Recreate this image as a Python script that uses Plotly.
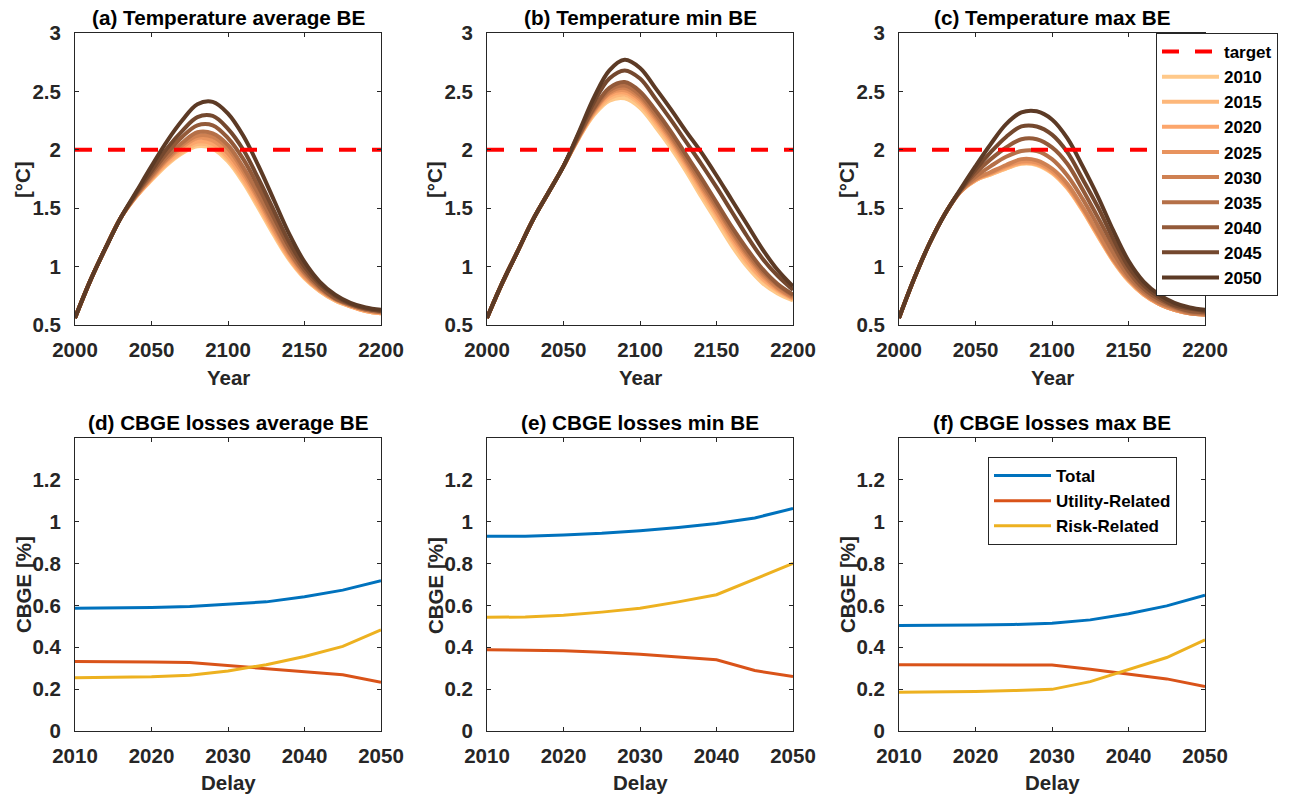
import plotly.graph_objects as go

# ---------------- data ----------------
years = [2000, 2010, 2020, 2030, 2040, 2050, 2060, 2070, 2080, 2090, 2100,
         2110, 2120, 2130, 2140, 2150, 2160, 2170, 2180, 2190, 2200]
delay_labels = ["2010", "2015", "2020", "2025", "2030", "2035", "2040", "2045", "2050"]
delay_years = [2010, 2015, 2020, 2025, 2030, 2035, 2040, 2045, 2050]
target_value = 2.0

# (a) Temperature average BE
avg_2010 = [0.56, 0.88, 1.16, 1.42, 1.60, 1.74, 1.87, 1.97, 2.03, 2.01, 1.90, 1.72, 1.50, 1.27, 1.06, 0.90, 0.79, 0.71, 0.66, 0.62, 0.60]
avg_2015 = [0.56, 0.88, 1.16, 1.42, 1.60, 1.75, 1.88, 1.98, 2.05, 2.03, 1.92, 1.74, 1.52, 1.29, 1.07, 0.91, 0.79, 0.71, 0.66, 0.62, 0.60]
avg_2020 = [0.56, 0.88, 1.16, 1.42, 1.60, 1.75, 1.89, 2.00, 2.07, 2.05, 1.94, 1.76, 1.54, 1.30, 1.08, 0.91, 0.80, 0.72, 0.66, 0.62, 0.60]
avg_2025 = [0.56, 0.88, 1.16, 1.42, 1.61, 1.76, 1.91, 2.02, 2.10, 2.08, 1.97, 1.79, 1.57, 1.32, 1.10, 0.92, 0.80, 0.72, 0.67, 0.63, 0.61]
avg_2030 = [0.56, 0.88, 1.16, 1.42, 1.61, 1.77, 1.92, 2.04, 2.12, 2.11, 2.01, 1.82, 1.59, 1.35, 1.12, 0.94, 0.81, 0.72, 0.67, 0.63, 0.61]
avg_2035 = [0.56, 0.88, 1.16, 1.42, 1.61, 1.78, 1.94, 2.06, 2.15, 2.14, 2.04, 1.85, 1.62, 1.37, 1.13, 0.95, 0.82, 0.73, 0.67, 0.63, 0.61]
avg_2040 = [0.56, 0.88, 1.16, 1.42, 1.62, 1.80, 1.97, 2.11, 2.21, 2.21, 2.10, 1.92, 1.68, 1.42, 1.17, 0.97, 0.83, 0.73, 0.68, 0.64, 0.62]
avg_2045 = [0.56, 0.88, 1.16, 1.42, 1.63, 1.82, 2.01, 2.16, 2.28, 2.29, 2.18, 2.00, 1.75, 1.48, 1.21, 1.00, 0.85, 0.75, 0.68, 0.64, 0.62]
avg_2050 = [0.56, 0.88, 1.16, 1.42, 1.64, 1.86, 2.07, 2.25, 2.39, 2.41, 2.31, 2.12, 1.86, 1.57, 1.28, 1.04, 0.87, 0.76, 0.69, 0.65, 0.63]

# (b) Temperature min BE
min_2010 = [0.56, 0.86, 1.13, 1.40, 1.63, 1.86, 2.10, 2.30, 2.42, 2.44, 2.36, 2.20, 2.02, 1.82, 1.60, 1.39, 1.18, 1.00, 0.86, 0.77, 0.71]
min_2015 = [0.56, 0.86, 1.13, 1.40, 1.63, 1.86, 2.10, 2.31, 2.44, 2.47, 2.39, 2.23, 2.05, 1.85, 1.63, 1.43, 1.22, 1.03, 0.89, 0.79, 0.72]
min_2020 = [0.56, 0.86, 1.13, 1.40, 1.63, 1.86, 2.11, 2.32, 2.46, 2.49, 2.41, 2.25, 2.07, 1.87, 1.66, 1.45, 1.24, 1.05, 0.90, 0.80, 0.73]
min_2025 = [0.56, 0.86, 1.13, 1.40, 1.63, 1.86, 2.11, 2.33, 2.48, 2.51, 2.43, 2.27, 2.09, 1.89, 1.68, 1.47, 1.26, 1.08, 0.92, 0.81, 0.73]
min_2030 = [0.56, 0.86, 1.13, 1.40, 1.63, 1.86, 2.11, 2.34, 2.49, 2.53, 2.45, 2.29, 2.11, 1.91, 1.70, 1.50, 1.29, 1.10, 0.94, 0.82, 0.74]
min_2035 = [0.56, 0.86, 1.13, 1.40, 1.63, 1.86, 2.12, 2.35, 2.51, 2.55, 2.47, 2.31, 2.13, 1.93, 1.73, 1.52, 1.31, 1.12, 0.96, 0.84, 0.75]
min_2040 = [0.56, 0.86, 1.13, 1.40, 1.63, 1.86, 2.12, 2.36, 2.53, 2.58, 2.50, 2.34, 2.16, 1.96, 1.76, 1.55, 1.34, 1.15, 0.98, 0.85, 0.76]
min_2045 = [0.56, 0.86, 1.13, 1.40, 1.63, 1.86, 2.14, 2.41, 2.61, 2.68, 2.61, 2.44, 2.26, 2.07, 1.88, 1.68, 1.47, 1.26, 1.07, 0.92, 0.80]
min_2050 = [0.56, 0.86, 1.13, 1.40, 1.63, 1.86, 2.15, 2.45, 2.68, 2.77, 2.70, 2.53, 2.35, 2.16, 1.98, 1.78, 1.57, 1.36, 1.15, 0.97, 0.83]

# (c) Temperature max BE
max_2010 = [0.56, 0.90, 1.20, 1.45, 1.64, 1.74, 1.79, 1.84, 1.88, 1.87, 1.80, 1.67, 1.48, 1.26, 1.05, 0.88, 0.76, 0.68, 0.63, 0.60, 0.59]
max_2015 = [0.56, 0.90, 1.20, 1.45, 1.64, 1.74, 1.79, 1.84, 1.885, 1.875, 1.805, 1.675, 1.485, 1.265, 1.05, 0.88, 0.76, 0.68, 0.63, 0.60, 0.59]
max_2020 = [0.56, 0.90, 1.20, 1.45, 1.64, 1.74, 1.80, 1.85, 1.89, 1.88, 1.81, 1.68, 1.49, 1.27, 1.06, 0.89, 0.76, 0.68, 0.63, 0.60, 0.59]
max_2025 = [0.56, 0.90, 1.20, 1.45, 1.64, 1.75, 1.80, 1.86, 1.90, 1.89, 1.82, 1.69, 1.50, 1.28, 1.06, 0.89, 0.77, 0.68, 0.63, 0.60, 0.59]
max_2030 = [0.56, 0.90, 1.20, 1.45, 1.64, 1.75, 1.81, 1.87, 1.92, 1.91, 1.84, 1.71, 1.51, 1.29, 1.07, 0.90, 0.77, 0.69, 0.64, 0.60, 0.59]
max_2035 = [0.56, 0.90, 1.20, 1.45, 1.65, 1.77, 1.86, 1.94, 1.99, 1.99, 1.92, 1.78, 1.58, 1.35, 1.12, 0.92, 0.79, 0.70, 0.65, 0.61, 0.60]
max_2040 = [0.56, 0.90, 1.20, 1.45, 1.65, 1.80, 1.92, 2.02, 2.09, 2.09, 2.02, 1.88, 1.66, 1.42, 1.18, 0.96, 0.81, 0.72, 0.66, 0.62, 0.61]
max_2045 = [0.56, 0.90, 1.20, 1.45, 1.65, 1.83, 1.98, 2.11, 2.20, 2.20, 2.13, 1.98, 1.75, 1.51, 1.24, 1.00, 0.84, 0.74, 0.67, 0.64, 0.62]
max_2050 = [0.56, 0.90, 1.20, 1.45, 1.66, 1.86, 2.05, 2.22, 2.32, 2.33, 2.26, 2.10, 1.86, 1.60, 1.31, 1.05, 0.87, 0.76, 0.69, 0.65, 0.63]

# (d)-(f) CBGE losses [%]
avg_total = [0.587, 0.587, 0.590, 0.595, 0.605, 0.617, 0.641, 0.673, 0.718]
avg_utility = [0.332, 0.332, 0.330, 0.327, 0.313, 0.299, 0.284, 0.269, 0.233]
avg_risk = [0.255, 0.256, 0.259, 0.266, 0.287, 0.317, 0.356, 0.404, 0.483]

min_total = [0.930, 0.930, 0.937, 0.945, 0.957, 0.972, 0.991, 1.018, 1.063]
min_utility = [0.388, 0.387, 0.383, 0.376, 0.367, 0.354, 0.340, 0.289, 0.260]
min_risk = [0.543, 0.545, 0.553, 0.568, 0.587, 0.617, 0.651, 0.726, 0.801]

max_total = [0.504, 0.504, 0.506, 0.509, 0.515, 0.531, 0.560, 0.598, 0.649]
max_utility = [0.316, 0.316, 0.315, 0.314, 0.315, 0.295, 0.271, 0.249, 0.212]
max_risk = [0.185, 0.186, 0.189, 0.193, 0.199, 0.236, 0.292, 0.351, 0.436]

temp_ticks = [0.5, 1, 1.5, 2, 2.5, 3]
temp_ticktext = ["0.5", "1", "1.5", "2", "2.5", "3"]
year_ticks = [2000, 2050, 2100, 2150, 2200]
cbge_ticks = [0, 0.2, 0.4, 0.6, 0.8, 1.0, 1.2]
cbge_ticktext = ["0", "0.2", "0.4", "0.6", "0.8", "1", "1.2"]
delay_ticks = [2010, 2020, 2030, 2040, 2050]

panel_titles = ["(a) Temperature average BE", "(b) Temperature min BE", "(c) Temperature max BE",
                "(d) CBGE losses average BE", "(e) CBGE losses min BE", "(f) CBGE losses max BE"]

# ---------------- styles ----------------
delay_colors = ["#FFC98A", "#FDB77A", "#FCA66C", "#E8935E", "#CF8152",
                "#B57048", "#935A39", "#74482E", "#5C3A25"]
cbge_names = ["Total", "Utility-Related", "Risk-Related"]
cbge_colors = ["#0072BD", "#D95319", "#EDB120"]

FONT = "Liberation Sans, Arial, Helvetica, sans-serif"
AX_COLOR = "#262626"
W, H = 1291, 797

x_doms = [[75 / W, 381 / W], [487 / W, 793 / W], [899 / W, 1205 / W]]
y_doms = [[1 - 325 / H, 1 - 33 / H], [1 - 731 / H, 1 - 438 / H]]

fig = go.Figure()

temp_sets = [
    [avg_2010, avg_2015, avg_2020, avg_2025, avg_2030, avg_2035, avg_2040, avg_2045, avg_2050],
    [min_2010, min_2015, min_2020, min_2025, min_2030, min_2035, min_2040, min_2045, min_2050],
    [max_2010, max_2015, max_2020, max_2025, max_2030, max_2035, max_2040, max_2045, max_2050],
]

for p, series in enumerate(temp_sets):
    xa = "x" if p == 0 else f"x{p + 1}"
    ya = "y" if p == 0 else f"y{p + 1}"
    show = (p == 2)
    for i, vals in enumerate(series):
        fig.add_trace(go.Scatter(
            x=years, y=vals, mode="lines", name=delay_labels[i],
            line=dict(color=delay_colors[i], width=4, shape="spline", smoothing=1.0),
            xaxis=xa, yaxis=ya, showlegend=show, legend="legend", legendrank=10 + i,
        ))
    fig.add_trace(go.Scatter(
        x=[years[0], years[-1]], y=[target_value, target_value], mode="lines", name="target",
        line=dict(color="#FF0000", width=4, dash="17px,16px"),
        xaxis=xa, yaxis=ya, showlegend=show, legend="legend", legendrank=1,
    ))

cbge_sets = [
    [avg_total, avg_utility, avg_risk],
    [min_total, min_utility, min_risk],
    [max_total, max_utility, max_risk],
]
for p, series in enumerate(cbge_sets):
    xa = f"x{p + 4}"
    ya = f"y{p + 4}"
    show = (p == 2)
    for i, vals in enumerate(series):
        fig.add_trace(go.Scatter(
            x=delay_years, y=vals, mode="lines", name=cbge_names[i],
            line=dict(color=cbge_colors[i], width=3),
            xaxis=xa, yaxis=ya, showlegend=show, legend="legend2",
        ))

tick_font = dict(family=FONT, size=20.5, color=AX_COLOR, weight="bold")
axis_common = dict(showline=True, linecolor=AX_COLOR, linewidth=1, mirror="ticks",
                   ticks="inside", ticklen=4, tickwidth=1, tickcolor=AX_COLOR,
                   showgrid=False, zeroline=False, tickfont=tick_font, automargin=False)

layout = dict(width=W, height=H, margin=dict(l=0, r=0, t=0, b=0, autoexpand=False),
              paper_bgcolor="white", plot_bgcolor="white",
              font=dict(family=FONT, color="black"))

for k in range(6):
    row, col = k // 3, k % 3
    xname = "xaxis" if k == 0 else f"xaxis{k + 1}"
    yname = "yaxis" if k == 0 else f"yaxis{k + 1}"
    xid = "x" if k == 0 else f"x{k + 1}"
    yid = "y" if k == 0 else f"y{k + 1}"
    if row == 0:
        xa = dict(domain=x_doms[col], range=[2000, 2200], tickvals=year_ticks, anchor=yid,
                  ticklabelstandoff=6, **axis_common)
        ya = dict(domain=y_doms[0], range=[0.5, 3], tickvals=temp_ticks, ticktext=temp_ticktext,
                  anchor=xid, ticklabelstandoff=9, **axis_common)
    else:
        xa = dict(domain=x_doms[col], range=[2010, 2050], tickvals=delay_ticks, anchor=yid,
                  ticklabelstandoff=6, **axis_common)
        ya = dict(domain=y_doms[1], range=[0, 1.4], tickvals=cbge_ticks, ticktext=cbge_ticktext,
                  anchor=xid, ticklabelstandoff=9, **axis_common)
    layout[xname] = xa
    layout[yname] = ya

annotations = []
title_y = [1 - 17 / H, 1 - 422 / H]
xlabel_y = [1 - 377 / H, 1 - 782 / H]
ylabel_x = [[22.5, 434.5, 846.5], [23, 435, 847]]
ylabel_y = [1 - 179.5 / H, 1 - 585 / H]
for k in range(6):
    row, col = k // 3, k % 3
    cx = (x_doms[col][0] + x_doms[col][1]) / 2
    annotations.append(dict(text=panel_titles[k], x=cx, y=title_y[row], xref="paper", yref="paper",
                            xanchor="center", yanchor="middle", showarrow=False,
                            font=dict(family=FONT, size=20.7, color="black", weight="bold")))
    annotations.append(dict(text="Year" if row == 0 else "Delay", x=cx, y=xlabel_y[row],
                            xref="paper", yref="paper", xanchor="center", yanchor="middle",
                            showarrow=False,
                            font=dict(family=FONT, size=20.5, color=AX_COLOR, weight="bold")))
    annotations.append(dict(text="[°C]" if row == 0 else "CBGE [%]", x=ylabel_x[row][col] / W,
                            y=ylabel_y[row], xref="paper", yref="paper", xanchor="center",
                            yanchor="middle", textangle=-90, showarrow=False,
                            font=dict(family=FONT, size=20.5, color=AX_COLOR, weight="bold")))
layout["annotations"] = annotations

legend_font = dict(family=FONT, size=17, color="black", weight="bold")
layout["legend"] = dict(x=1156 / W, y=1 - 33 / H, xanchor="left", yanchor="top",
                        bgcolor="white", bordercolor=AX_COLOR, borderwidth=1,
                        font=legend_font, itemwidth=57, tracegroupgap=0)
layout["legend2"] = dict(x=988 / W, y=1 - 457 / H, xanchor="left", yanchor="top",
                         bgcolor="white", bordercolor=AX_COLOR, borderwidth=1,
                         font=legend_font, itemwidth=57, tracegroupgap=0)

fig.update_layout(**layout)
fig.write_html("out.html")
